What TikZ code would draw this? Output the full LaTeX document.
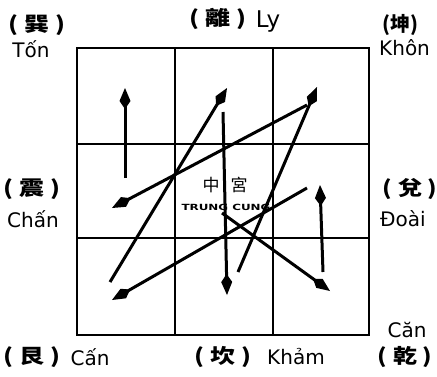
\documentclass[tikz,border=0pt]{standalone}
\usepackage{fontspec}
\setmainfont{DejaVu Sans}
\newfontfamily\cjk{Noto Sans CJK TC}
\usetikzlibrary{arrows.meta}
\tikzset{
  gridline/.style={line width=1.8pt},
  flyarrow/.style={line width=3pt,-{Kite[length=21pt,width=11pt,inset=8pt]}},
  hanlbl/.style={font=\fontsize{20}{22}\cjk\bfseries\selectfont,inner sep=0pt},
  vnlbl/.style={font=\fontsize{20}{22}\selectfont,inner sep=0pt},
}
\begin{document}
\begin{tikzpicture}[x=1pt,y=-1pt]
\useasboundingbox (0,0) rectangle (437,376);
\fill[white] (0,0) rectangle (437,376);
% grid
\draw[gridline] (77,48) rectangle (369,335);
\draw[gridline] (175,48) -- (175,335);
\draw[gridline] (273,48) -- (273,335);
\draw[gridline] (77,144) -- (369,144);
\draw[gridline] (77,238) -- (369,238);
% labels
\node[hanlbl] (xun) at (37,25) {\scalebox{1.25}[1]{( 巽 )}};
\node[vnlbl] (ton) at (31,49) {Tốn};
\node[hanlbl] (li) at (218,19) {\scalebox{1.25}[1]{( 離 )}};
\node[vnlbl,font=\fontsize{23}{25}\selectfont] (ly) at (268,22) {Ly};
\node[hanlbl] (kun) at (400,25) {(坤)};
\node[vnlbl,anchor=west] (khon) at (379,48) {Khôn};
\node[hanlbl] (zhen) at (32,189) {\scalebox{1.25}[1]{( 震 )}};
\node[vnlbl] (chan) at (33,219) {Chấn};
\node[hanlbl] (dui) at (410,189) {\scalebox{1.2}[1]{( 兌 )}};
\node[vnlbl,anchor=west] (doai) at (380,219) {Đoài};
\node[vnlbl] (can6) at (407,330) {Căn};
\node[hanlbl] (gen) at (32,357) {\scalebox{1.25}[1]{( 艮 )}};
\node[vnlbl] (can8) at (90,357) {Cấn};
\node[hanlbl] (kan) at (223,357) {\scalebox{1.25}[1]{( 坎 )}};
\node[vnlbl] (kham) at (296,357) {Khảm};
\node[hanlbl] (qian) at (405,357) {\scalebox{1.2}[1]{( 乾 )}};
\node[font=\fontsize{17}{20}\cjk\selectfont,inner sep=0pt] (zg) at (225,185) {中\hspace{11pt}宮};
\node[font=\bfseries\fontsize{8.5}{9}\selectfont,inner sep=0pt] (tc) at (226,207) {\scalebox{1.4}[1]{TRUNG CUNG}};
% arrow end points
\coordinate (p3) at (125,178); \coordinate (p4) at (125,88);
\coordinate (p2) at (307,105); \coordinate (p3b) at (112,208);
\coordinate (p8) at (110,282); \coordinate (p9) at (227,88);
\coordinate (p9b) at (223,112); \coordinate (p1) at (227,295);
\coordinate (p1b) at (238,272); \coordinate (p2b) at (317,87);
\coordinate (p7) at (307,188); \coordinate (p8b) at (112,300);
\coordinate (p6) at (323,272); \coordinate (p7b) at (320,185);
\coordinate (p5) at (222,213); \coordinate (p6b) at (330,291);
% flying path
\draw[flyarrow] (p5) -- (p6b);
\draw[flyarrow] (p6) -- (p7b);
\draw[flyarrow] (p7) -- (p8b);
\draw[flyarrow] (p8) -- (p9);
\draw[flyarrow] (p9b) -- (p1);
\draw[flyarrow] (p1b) -- (p2b);
\draw[flyarrow] (p2) -- (p3b);
\draw[flyarrow] (p3) -- (p4);
\end{tikzpicture}
\end{document}
